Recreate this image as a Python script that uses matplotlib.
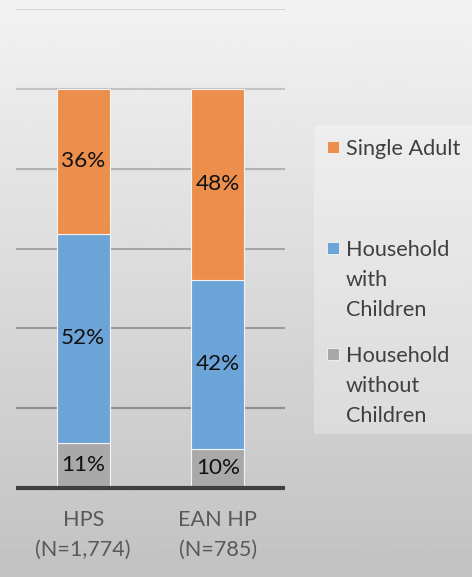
import numpy as np
import matplotlib
matplotlib.use("Agg")
import matplotlib.pyplot as plt
from matplotlib.patches import Rectangle

# data
groups = ["HPS\n(N=1,774)", "EAN HP\n(N=785)"]
series = ["Household\nwithout\nChildren", "Household\nwith\nChildren", "Single Adult"]
without_children = [11.3, 9.8]
with_children = [52.4, 42.4]
single_adult = [36.3, 47.8]
colors = ["#A9A9A9", "#6CA4D8", "#EC8E4C"]

plt.rcParams["font.family"] = ["Lato", "DejaVu Sans"]

W, H = 472, 577
fig = plt.figure(figsize=(W / 100, H / 100), dpi=100)

# gradient background
bg = fig.add_axes([0, 0, 1, 1], zorder=-10)
grad = np.linspace(0.95, 0.76, 256).reshape(-1, 1)
bg.imshow(np.repeat(grad, 2, axis=1), cmap="gray", vmin=0, vmax=1,
          aspect="auto", extent=[0, 1, 0, 1])
bg.axis("off")

def fx(px):
    return px / W

def fy(py):
    return 1 - py / H

ax = fig.add_axes([fx(16), fy(488), fx(285) - fx(16), fy(9) - fy(488)])
ax.patch.set_alpha(0)

x = np.arange(len(groups))
bottom = np.zeros(len(groups))
for vals, col in zip([without_children, with_children, single_adult], colors):
    bars = ax.bar(x, vals, width=0.395, bottom=bottom, color=col,
                  edgecolor="#F4F4F4", linewidth=0.8, zorder=3)
    for b, v, b0 in zip(bars, vals, bottom):
        ax.text(b.get_x() + b.get_width() / 2, b0 + v / 2, f"{v:.0f}%",
                ha="center", va="center", fontsize=16.2, color="#111111", zorder=4)
    bottom += np.array(vals)

ax.set_xlim(-0.5, 1.5)
ax.set_ylim(0, 120)

# gridlines, getting darker toward the bottom
ticks = [20, 40, 60, 80, 100, 120]
greys = ["#8E8E8E", "#999999", "#A5A5A5", "#B2B2B2", "#C4C4C4", "#D4D4D4"]
for t, g in zip(ticks, greys):
    ax.axhline(t, color=g, lw=1.5, zorder=1)
ax.axhline(0, color="#404040", lw=3, zorder=5, solid_capstyle="butt", clip_on=False)

for s in ax.spines.values():
    s.set_visible(False)
ax.set_yticks([])
ax.set_xticks(x)
ax.set_xticklabels(groups, fontsize=15.6, color="#595959", linespacing=1.62)
ax.tick_params(axis="x", length=0, pad=16)

# legend box
fig.patches.append(Rectangle((fx(314), fy(434)), fx(472) - fx(314), fy(125) - fy(434),
                             transform=fig.transFigure, facecolor="white", alpha=0.28,
                             edgecolor="none", zorder=-5))
leg_first = [354, 248, 147]
for name, col, ty in zip(series, colors, leg_first):
    fig.patches.append(Rectangle((fx(327), fy(ty + 6)), fx(12), 12 / H,
                                 transform=fig.transFigure, facecolor=col,
                                 edgecolor="#F4F4F4", lw=0.6))
    fig.text(fx(346), fy(ty - 8), name, ha="left", va="top", fontsize=15.6,
             color="#404040", linespacing=1.62)

fig.savefig("out.png", dpi=100)
